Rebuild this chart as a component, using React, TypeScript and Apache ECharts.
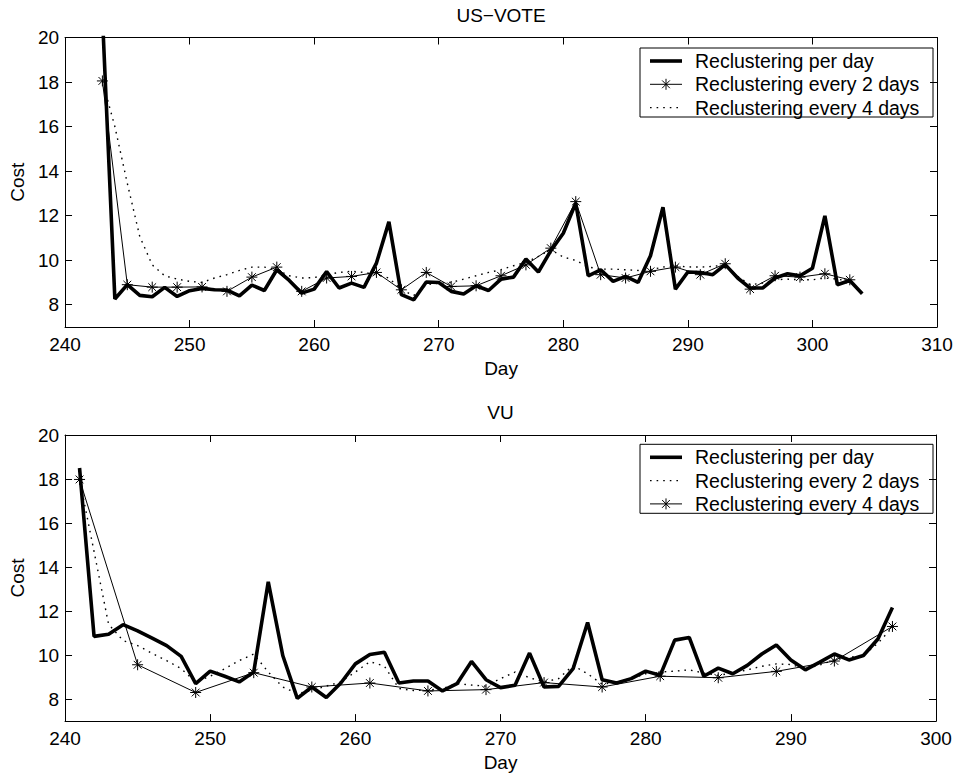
import React, { useEffect, useRef } from "react";
import * as echarts from "echarts";

const FONT = '"Liberation Sans", Arial, Helvetica, sans-serif';

const NAME_PER_DAY = "Reclustering per day";
const NAME_2_DAYS = "Reclustering every 2 days";
const NAME_4_DAYS = "Reclustering every 4 days";

const Y_TICKS = [8, 10, 12, 14, 16, 18, 20];

// ---------- US-VOTE (top) ----------
const TOP_PER_DAY_START = 243;
const TOP_PER_DAY = [
  21.0, 8.26, 8.9, 8.42, 8.36, 8.78, 8.37, 8.63, 8.73, 8.67, 8.66, 8.4, 8.88, 8.64, 9.57, 9.09, 8.52, 8.7,
  9.49, 8.75, 8.97, 8.78, 9.87, 11.72, 8.45, 8.22, 9.02, 9.0, 8.6, 8.48, 8.85, 8.64, 9.15, 9.24, 10.05,
  9.47, 10.43, 11.21, 12.56, 9.3, 9.57, 9.05, 9.27, 9.0, 10.2, 12.38, 8.7, 9.47, 9.45, 9.35, 9.8, 9.2,
  8.75, 8.75, 9.2, 9.39, 9.3, 9.64, 11.99, 8.9, 9.09, 8.49,
];
const TOP_EVERY2_DAYS = [
  243, 245, 247, 249, 251, 253, 255, 257, 259, 261, 263, 265, 267, 269, 271, 273, 275, 277, 279, 281, 283,
  285, 287, 289, 291, 293, 295, 297, 299, 301, 303,
];
const TOP_EVERY2 = [
  18.05, 8.9, 8.79, 8.79, 8.8, 8.6, 9.24, 9.69, 8.6, 9.2, 9.27, 9.45, 8.67, 9.45, 8.82, 8.85, 9.3, 9.79,
  10.54, 12.63, 9.35, 9.2, 9.5, 9.69, 9.35, 9.84, 8.7, 9.3, 9.24, 9.39, 9.12,
];
const TOP_EVERY4_START = 243;
const TOP_EVERY4 = [
  18.05, 16.0, 13.45, 11.06, 9.79, 9.3, 9.15, 9.05, 9.0, 9.2, 9.35, 9.54, 9.69, 9.69, 9.57, 9.3, 9.2, 9.22,
  9.35, 9.45, 9.5, 9.45, 9.35, 9.2, 8.67, 8.42, 8.9, 8.97, 9.0, 9.15, 9.3, 9.45, 9.57, 9.75, 9.9, 10.17,
  10.47, 10.14, 9.99, 9.69, 9.6, 9.6, 9.57, 9.54, 9.57, 9.69, 9.75, 9.7, 9.69, 9.72, 9.79, 9.27, 8.9,
  8.97, 9.12, 9.15, 9.12, 9.12, 9.2, 9.15, 9.05,
];

// ---------- VU (bottom) ----------
const BOT_PER_DAY_START = 241;
const BOT_PER_DAY = [
  18.5, 10.85, 10.95, 11.38, 11.1, 10.77, 10.43, 9.94, 8.7, 9.27, 9.04, 8.78, 9.23, 13.33, 9.98, 8.03, 8.55,
  8.07, 8.73, 9.6, 10.03, 10.13, 8.73, 8.82, 8.82, 8.37, 8.7, 9.71, 8.88, 8.52, 8.63, 10.09, 8.55, 8.58,
  9.38, 11.48, 8.88, 8.73, 8.93, 9.27, 9.08, 10.68, 10.8, 9.04, 9.41, 9.15, 9.53, 10.05, 10.46, 9.78, 9.33,
  9.68, 10.05, 9.78, 9.98, 10.73, 12.16,
];
const BOT_EVERY2_START = 241;
const BOT_EVERY2 = [
  18.0, 14.7, 11.4, 10.66, 10.43, 10.08, 9.75, 9.38, 8.78, 9.04, 9.38, 9.75, 10.05, 9.23, 8.55, 8.25, 8.4,
  8.59, 8.78, 9.23, 9.7, 9.5, 8.48, 8.39, 8.41, 8.48, 8.7, 8.64, 8.59, 8.93, 9.23, 8.97, 8.78, 8.93, 9.53,
  9.15, 8.68, 8.78, 8.93, 9.15, 9.23, 9.27, 9.33, 9.18, 9.08, 9.18, 9.33, 9.49, 9.6, 9.57, 9.38, 9.55,
  9.78, 9.9, 9.98, 10.54, 11.26,
];
const BOT_EVERY4_DAYS = [241, 245, 249, 253, 257, 261, 265, 269, 273, 277, 281, 285, 289, 293, 297];
const BOT_EVERY4 = [17.98, 9.56, 8.3, 9.2, 8.55, 8.73, 8.37, 8.43, 8.75, 8.55, 9.04, 8.97, 9.26, 9.73, 11.3];

const STAR = "path://M0,6L12,6M6,0L6,12M1.76,1.76L10.24,10.24M1.76,10.24L10.24,1.76";

const daily = (start: number, vals: number[]) => vals.map((v, i) => [start + i, v]);
const paired = (days: number[], vals: number[]) => vals.map((v, i) => [days[i], v]);

const BLACK = "#000";
const THICK_W = 3.6;
const DOT_DASH = [1.6, 5];

function thickSeries(name: string, data: number[][]) {
  return {
    name,
    type: "line",
    data,
    symbol: "none",
    lineStyle: { color: BLACK, width: THICK_W },
    itemStyle: { color: BLACK },
    z: 3,
  };
}
function dottedSeries(name: string, data: number[][]) {
  return {
    name,
    type: "line",
    data,
    symbol: "none",
    lineStyle: { color: BLACK, width: 1.4, type: DOT_DASH },
    itemStyle: { color: BLACK },
    z: 2,
  };
}
function starSeries(name: string, data: number[][]) {
  return {
    name,
    type: "line",
    data,
    symbol: STAR,
    symbolSize: 11,
    showSymbol: true,
    lineStyle: { color: BLACK, width: 1 },
    itemStyle: { color: "rgba(0,0,0,0)", borderColor: BLACK, borderWidth: 1 },
    z: 4,
  };
}

type Kind = "thick" | "star" | "dotted";

function legendGraphic(top: number, items: { name: string; kind: Kind }[]) {
  const left = 640;
  const width = 293;
  const height = 69;
  const children: any[] = [
    {
      type: "rect",
      shape: { x: left, y: top, width, height },
      style: { fill: "#fff", stroke: BLACK, lineWidth: 1 },
    },
  ];
  items.forEach((it, i) => {
    const y = top + 13 + 23.3 * i;
    const x1 = 650;
    const x2 = 682;
    if (it.kind === "thick") {
      children.push({ type: "line", shape: { x1, y1: y, x2, y2: y }, style: { stroke: BLACK, lineWidth: THICK_W } });
    } else if (it.kind === "dotted") {
      children.push({
        type: "line",
        shape: { x1, y1: y, x2, y2: y },
        style: { stroke: BLACK, lineWidth: 1.4, lineDash: DOT_DASH },
      });
    } else {
      const cx = (x1 + x2) / 2;
      const r = 5.5;
      const d = r * 0.707;
      children.push({ type: "line", shape: { x1, y1: y, x2, y2: y }, style: { stroke: BLACK, lineWidth: 1 } });
      children.push({ type: "line", shape: { x1: cx, y1: y - r, x2: cx, y2: y + r }, style: { stroke: BLACK, lineWidth: 1 } });
      children.push({ type: "line", shape: { x1: cx - d, y1: y - d, x2: cx + d, y2: y + d }, style: { stroke: BLACK, lineWidth: 1 } });
      children.push({ type: "line", shape: { x1: cx - d, y1: y + d, x2: cx + d, y2: y - d }, style: { stroke: BLACK, lineWidth: 1 } });
    }
    children.push({
      type: "text",
      x: 695,
      y,
      style: { text: it.name, fontSize: 19.5, fontFamily: FONT, fill: BLACK, verticalAlign: "middle", align: "left" },
    });
  });
  return [{ type: "group", z: 100, children }];
}

function buildOption(
  title: string,
  xMax: number,
  gridTop: number,
  gridWidth: number,
  legendTop: number,
  series: any[],
  legendItems: { name: string; kind: Kind }[]
) {
  const axisLine = { show: true, onZero: false, lineStyle: { color: BLACK, width: 1 } };
  const tick = { show: true, inside: true, length: 7, lineStyle: { color: BLACK, width: 1 } };
  const label = { color: BLACK, fontSize: 19, fontFamily: FONT };
  return {
    animation: false,
    backgroundColor: "#fff",
    textStyle: { fontFamily: FONT },
    grid: { left: 65, top: gridTop, width: gridWidth, height: 289.5 },
    xAxis: [
      {
        type: "value",
        min: 240,
        max: xMax,
        interval: 10,
        position: "bottom",
        name: "Day",
        nameLocation: "middle",
        nameGap: 31,
        nameTextStyle: label,
        axisLine,
        axisTick: tick,
        axisLabel: { ...label, margin: 8 },
        splitLine: { show: false },
      },
      {
        type: "value",
        min: 240,
        max: xMax,
        interval: 10,
        position: "top",
        name: title,
        nameLocation: "middle",
        nameGap: 13,
        nameTextStyle: label,
        axisLine,
        axisTick: tick,
        axisLabel: { show: false },
        splitLine: { show: false },
      },
    ],
    yAxis: [
      {
        type: "value",
        min: 7,
        max: 20,
        position: "left",
        name: "Cost",
        nameLocation: "middle",
        nameGap: 37,
        nameTextStyle: label,
        axisLine,
        axisTick: { ...tick, customValues: Y_TICKS },
        axisLabel: { ...label, margin: 6, customValues: Y_TICKS },
        splitLine: { show: false },
      },
      {
        type: "value",
        min: 7,
        max: 20,
        position: "right",
        axisLine,
        axisTick: { ...tick, customValues: Y_TICKS },
        axisLabel: { show: false },
        splitLine: { show: false },
      },
    ],
    graphic: legendGraphic(legendTop, legendItems),
    series,
  };
}

function ChartBox({ option, top, height }: { option: any; top: number; height: number }) {
  const ref = useRef<HTMLDivElement>(null);
  useEffect(() => {
    if (!ref.current) return;
    const chart = echarts.init(ref.current, undefined, { renderer: "svg" });
    chart.setOption(option);
    return () => chart.dispose();
  }, [option]);
  return <div ref={ref} style={{ position: "absolute", left: 0, top, width: 956, height }} />;
}

const TOP_OPTION = buildOption(
  "US\u2212VOTE",
  310,
  37.5,
  872,
  48,
  [
    thickSeries(NAME_PER_DAY, daily(TOP_PER_DAY_START, TOP_PER_DAY)),
    starSeries(NAME_2_DAYS, paired(TOP_EVERY2_DAYS, TOP_EVERY2)),
    dottedSeries(NAME_4_DAYS, daily(TOP_EVERY4_START, TOP_EVERY4)),
  ],
  [
    { name: NAME_PER_DAY, kind: "thick" },
    { name: NAME_2_DAYS, kind: "star" },
    { name: NAME_4_DAYS, kind: "dotted" },
  ]
);

const BOT_OPTION = buildOption(
  "VU",
  300,
  45,
  871,
  54.3,
  [
    thickSeries(NAME_PER_DAY, daily(BOT_PER_DAY_START, BOT_PER_DAY)),
    dottedSeries(NAME_2_DAYS, daily(BOT_EVERY2_START, BOT_EVERY2)),
    starSeries(NAME_4_DAYS, paired(BOT_EVERY4_DAYS, BOT_EVERY4)),
  ],
  [
    { name: NAME_PER_DAY, kind: "thick" },
    { name: NAME_2_DAYS, kind: "dotted" },
    { name: NAME_4_DAYS, kind: "star" },
  ]
);

export default function App() {
  return (
    <div style={{ position: "absolute", left: 0, top: 0, width: 956, height: 777, background: "#fff" }}>
      <ChartBox option={TOP_OPTION} top={0} height={390} />
      <ChartBox option={BOT_OPTION} top={390} height={387} />
    </div>
  );
}
